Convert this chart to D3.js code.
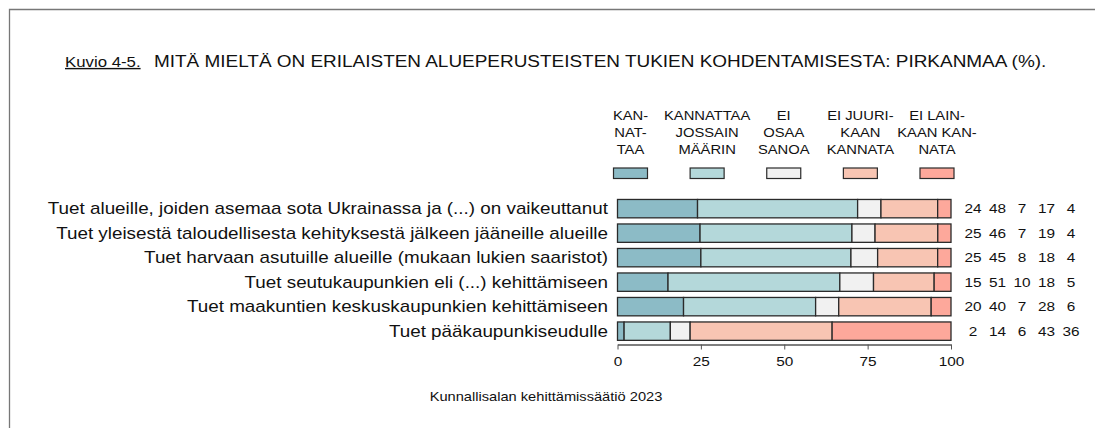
<html>
  <head>
    <script src="https://d3js.org/d3.v7.min.js"></script>
    <style>
      body { margin: 0; background: #fff; }
      svg text { font-family: "Liberation Sans", Arial, sans-serif; fill: #111; }
      .axis path, .axis line { stroke: #555; }
    </style>
  </head>
  <body>
    <svg id="chart" width="1095" height="428"></svg>
    <script>
      // categories (top to bottom)
      const categories = [
        "Tuet alueille, joiden asemaa sota Ukrainassa ja (...) on vaikeuttanut",
        "Tuet yleisestä taloudellisesta kehityksestä jälkeen jääneille alueille",
        "Tuet harvaan asutuille alueille (mukaan lukien saaristot)",
        "Tuet seutukaupunkien eli (...) kehittämiseen",
        "Tuet maakuntien keskuskaupunkien kehittämiseen",
        "Tuet pääkaupunkiseudulle"
      ];
      const kannattaa = [24, 25, 25, 15, 20, 2];
      const jossain = [48, 46, 45, 51, 40, 14];
      const eiOsaa = [7, 7, 8, 10, 7, 6];
      const eiJuuri = [17, 19, 18, 18, 28, 43];
      const eiLainkaan = [4, 4, 4, 5, 6, 36];

      const seriesNames = ["KANNATTAA", "JOSSAIN", "EI OSAA", "EI JUURI", "EI LAINKAAN"];
      const legendLabels = [
        ["KAN-", "NAT-", "TAA"],
        ["KANNATTAA", "JOSSAIN", "MÄÄRIN"],
        ["EI", "OSAA", "SANOA"],
        ["EI JUURI-", "KAAN", "KANNATA"],
        ["EI LAIN-", "KAAN KAN-", "NATA"]
      ];
      const colors = ["#8cbbc6", "#b4d8da", "#f1f1f1", "#f8c5b3", "#fda89b"];
      const xTicks = [0, 25, 50, 75, 100];

      // the original picture is a bit wider than tall, text is stretched
      const stretch = 1.2;
      const place = (sel, px, py) =>
        sel.attr("transform", `translate(${px},${py}) scale(${stretch},1)`);

      const svg = d3.select("#chart");

      // outer frame (open to the right and bottom)
      svg.append("path")
        .attr("d", "M9.5,428 V9.5 H1095")
        .attr("fill", "none")
        .attr("stroke", "#777")
        .attr("stroke-width", 1.3);

      // title
      svg.append("text")
        .call(place, 65, 67)
        .attr("font-size", 14)
        .attr("text-decoration", "underline")
        .text("Kuvio 4-5.");
      svg.append("text")
        .call(place, 154, 67)
        .attr("font-size", 15.8)
        .text("MITÄ MIELTÄ ON ERILAISTEN ALUEPERUSTEISTEN TUKIEN KOHDENTAMISESTA: PIRKANMAA (%).");

      const rows = categories.map((c, i) => {
        const vals = [kannattaa[i], jossain[i], eiOsaa[i], eiJuuri[i], eiLainkaan[i]];
        const total = d3.sum(vals);
        let cum = 0;
        const segs = vals.map((v, j) => {
          const s = { key: seriesNames[j], x0: cum / total * 100, x1: (cum + v) / total * 100, j: j };
          cum += v;
          return s;
        });
        return { cat: c, vals: vals, segs: segs };
      });

      const x = d3.scaleLinear().domain([0, 100]).range([617.5, 951]);
      const y = d3.scaleBand().domain(categories).range([196.4, 196.4 + 6 * 24.5])
        .paddingInner(0.25).paddingOuter(0.125);

      // bars
      const rowG = svg.append("g").selectAll("g").data(rows).join("g")
        .attr("transform", (d) => `translate(0,${y(d.cat)})`);
      rowG.selectAll("rect").data((d) => d.segs).join("rect")
        .attr("x", (d) => x(d.x0))
        .attr("width", (d) => x(d.x1) - x(d.x0))
        .attr("y", 0)
        .attr("height", y.bandwidth())
        .attr("fill", (d) => colors[d.j])
        .attr("stroke", "#2a2a2a")
        .attr("stroke-width", 1.3);

      // category labels
      svg.append("g").selectAll("text").data(categories).join("text")
        .each(function (d) {
          place(d3.select(this), 608, y(d) + y.bandwidth() / 2);
        })
        .attr("dy", "0.36em")
        .attr("text-anchor", "end")
        .attr("font-size", 15.7)
        .text((d) => d);

      // value columns
      const vx = d3.scalePoint().domain(seriesNames).range([973, 1071]);
      rowG.selectAll("text").data((d) => d.vals).join("text")
        .each(function (d, j) {
          place(d3.select(this), vx(seriesNames[j]), y.bandwidth() / 2);
        })
        .attr("dy", "0.36em")
        .attr("text-anchor", "middle")
        .attr("font-size", 12.8)
        .text((d) => d);

      // x axis
      const axis = svg.append("g").attr("class", "axis")
        .attr("transform", "translate(0,344.5)")
        .call(d3.axisBottom(x).tickValues(xTicks).tickSize(5).tickSizeOuter(0).tickPadding(7));
      axis.selectAll("text")
        .attr("font-size", 12.8)
        .attr("fill", "#111")
        .attr("transform", `scale(${stretch},1)`)
        .style("font-family", "'Liberation Sans', Arial, sans-serif");
      axis.select(".domain").attr("stroke-width", 1.3);

      // legend
      const lx = d3.scalePoint().domain(seriesNames).range([630.5, 937]);
      const leg = svg.append("g").selectAll("g").data(seriesNames).join("g")
        .attr("transform", (d) => `translate(${lx(d)},0)`);
      leg.append("rect")
        .attr("x", -17).attr("y", 168)
        .attr("width", 34).attr("height", 10.5)
        .attr("fill", (d, i) => colors[i])
        .attr("stroke", "#2a2a2a")
        .attr("stroke-width", 1.2);
      leg.each(function (d, i) {
        d3.select(this).selectAll("text").data(legendLabels[i]).join("text")
          .each(function (t, k) {
            place(d3.select(this), 0, 120 + k * 17);
          })
          .attr("text-anchor", "middle")
          .attr("font-size", 12.3)
          .text((t) => t);
      });

      // source
      svg.append("text")
        .call(place, 546, 401)
        .attr("text-anchor", "middle")
        .attr("font-size", 12.2)
        .text("Kunnallisalan kehittämissäätiö 2023");
    </script>
  </body>
</html>
